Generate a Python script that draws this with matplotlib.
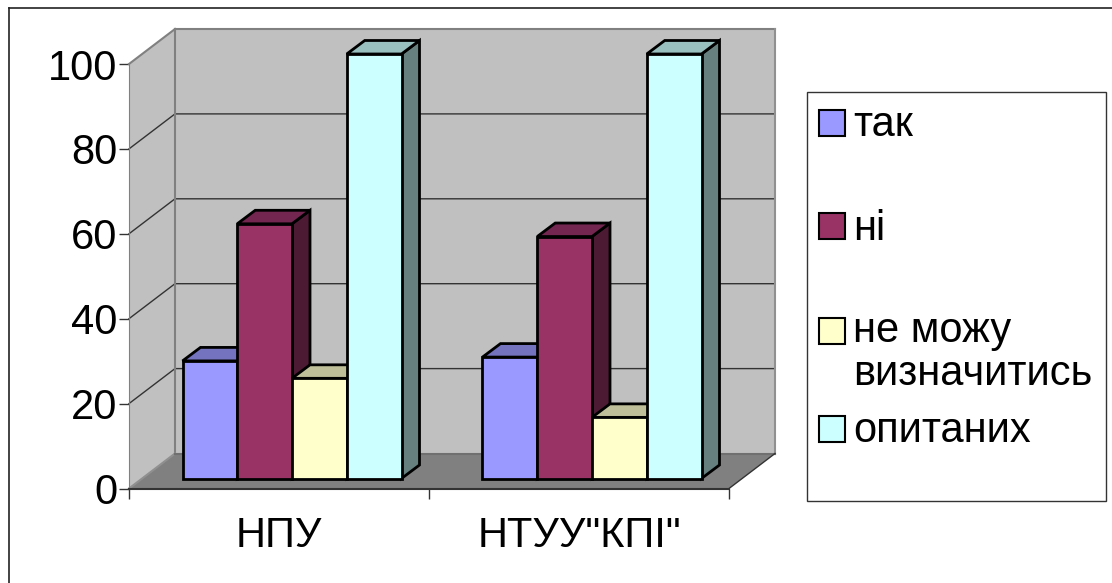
import matplotlib
matplotlib.use("Agg")
import matplotlib.pyplot as plt
from matplotlib.lines import Line2D
from matplotlib.patches import Rectangle

plt.rcParams["font.family"] = ["Liberation Sans", "DejaVu Sans"]

categories = ["НПУ", 'НТУУ"КПІ"']
series_names = ["так", "ні", "не можу", "визначитись", "опитаних"]
tak = [27.7, 28.6]
ni = [60, 57]
ne_mozhu = [23.6, 14.4]
opytanyh = [100, 100]
y_ticks = [0, 20, 40, 60, 80, 100]

series = [tak, ni, ne_mozhu, opytanyh]
front = ["#9999ff", "#993366", "#ffffcc", "#ccffff"]
top = ["#7373bf", "#732650", "#bfbf99", "#99bfbf"]
side = ["#4d4d80", "#4d1a33", "#808066", "#668080"]

W, H = 1112, 583
fig = plt.figure(figsize=(W / 100, H / 100), dpi=100)

# outer frame of the chart, only top and left are inside the picture
fig.add_artist(Line2D([8.5 / W, 8.5 / W], [0, 1 - 8 / H], color="#222222", lw=1.2))
fig.add_artist(Line2D([8.5 / W, 1], [1 - 8 / H, 1 - 8 / H], color="#222222", lw=1.2))

# axes sit on the front plane of the 3d box
ax = fig.add_axes([129 / W, 1 - 488.5 / H, 600 / W, 424.5 / H])
ax.set_xlim(0, 2)
ax.set_ylim(0, 100)
ax.patch.set_visible(False)
for s in ax.spines.values():
    s.set_visible(False)

# pixels to data units, for the fake depth
ux = 2 / 600
uy = 100 / 424.5
wall_dx, wall_dy = 46 * ux, 35 * uy
bar_off_x, bar_off_y = 13 * ux, 10 * uy
bar_dx, bar_dy = 18 * ux, 13.5 * uy
bar_w = 54.75 * ux
group_w = bar_w * len(series)


def poly(xs, ys, fc, ec="none", lw=0, z=1):
    ax.fill(xs, ys, fc=fc, ec=ec, lw=lw, zorder=z, clip_on=False, joinstyle="miter")


# walls
poly([0, wall_dx, wall_dx, 0], [0, wall_dy, 100 + wall_dy, 100], "#c0c0c0", z=1)
poly([wall_dx, 2 + wall_dx, 2 + wall_dx, wall_dx], [wall_dy, wall_dy, 100 + wall_dy, 100 + wall_dy], "#c0c0c0", z=1)
poly([0, 2, 2 + wall_dx, wall_dx], [0, 0, wall_dy, wall_dy], "#808080", z=1)

# gridlines on the walls
for t in y_ticks[1:-1]:
    ax.plot([0, wall_dx, 2 + wall_dx], [t, t + wall_dy, t + wall_dy], color="#333333", lw=1, zorder=2, clip_on=False)
ax.plot([wall_dx, 2 + wall_dx], [100 + wall_dy] * 2, color="#808080", lw=1.5, zorder=2, clip_on=False)
ax.plot([2 + wall_dx] * 2, [wall_dy, 100 + wall_dy], color="#909090", lw=1.5, zorder=2, clip_on=False)
ax.plot([wall_dx] * 2, [wall_dy, 100 + wall_dy], color="#808080", lw=1.5, zorder=2, clip_on=False)
ax.plot([0, wall_dx], [100, 100 + wall_dy], color="#808080", lw=1.5, zorder=2, clip_on=False)
ax.plot([0, wall_dx], [0, wall_dy], color="#909090", lw=1.5, zorder=2, clip_on=False)
ax.plot([wall_dx, 2 + wall_dx], [wall_dy, wall_dy], color="#707070", lw=1.5, zorder=2, clip_on=False)
ax.plot([2, 2 + wall_dx], [0, wall_dy], color="#333333", lw=1, zorder=2, clip_on=False)

# bars, later ones overlap earlier ones
z = 3
for g in range(len(categories)):
    left = g + (1 - group_w) / 2 + bar_off_x
    for i, vals in enumerate(series):
        x0 = left + i * bar_w
        x1 = x0 + bar_w
        y0 = bar_off_y
        y1 = vals[g] + bar_off_y
        poly([x1, x1 + bar_dx, x1 + bar_dx, x1], [y0, y0 + bar_dy, y1 + bar_dy, y1], side[i], "black", 2, z)
        poly([x0, x0 + bar_dx, x1 + bar_dx, x1], [y1, y1 + bar_dy, y1 + bar_dy, y1], top[i], "black", 2, z)
        poly([x0, x1, x1, x0], [y0, y0, y1, y1], front[i], "black", 2, z)
        z += 1

ax.set_xticks([0, 1, 2], labels=[])
ax.set_xticks([0.5, 1.5], labels=categories, minor=True)
ax.set_yticks(y_ticks)
ax.tick_params(axis="x", which="major", length=7, width=1, color="#333333", direction="out")
ax.tick_params(axis="x", which="minor", length=0, labelsize=30, pad=20)
ax.tick_params(axis="y", length=7, width=1, color="#333333", labelsize=30, pad=1.5)
ax.spines["left"].set_visible(True)
ax.spines["left"].set_color("#808080")
ax.spines["bottom"].set_visible(True)
ax.spines["bottom"].set_color("#333333")
ax.spines["bottom"].set_linewidth(1.5)
ax.spines["left"].set_zorder(2)

# legend box
fig.add_artist(Rectangle((807 / W, 1 - 501 / H), 299 / W, 409 / H, transform=fig.transFigure,
                         fc="white", ec="#333333", lw=1))
leg_y = [123, 226, 331, 429]
text_y = [125, 229, 331, 374, 431]
swatch = [0, 1, 2, None, 3]
for name, yy, sw in zip(series_names, text_y, swatch):
    if sw is not None:
        sy = leg_y[sw]
        fig.add_artist(Rectangle((819 / W, 1 - (sy + 13) / H), 26 / W, 26 / H, transform=fig.transFigure,
                                 fc=front[sw], ec="black", lw=1.5))
    fig.text(853.5 / W, 1 - yy / H, name, fontsize=30, va="center", ha="left")

fig.savefig("out.png", dpi=100)
